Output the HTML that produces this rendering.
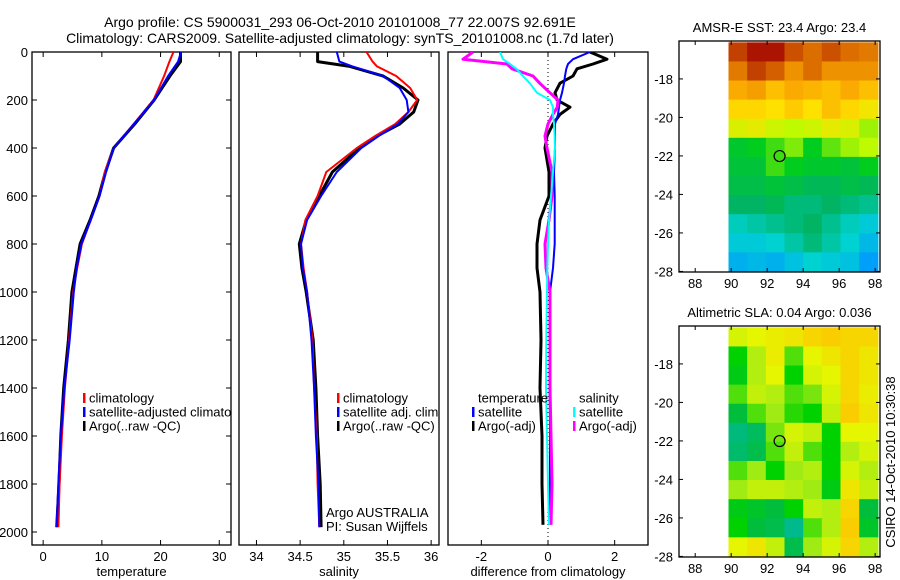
<!DOCTYPE html>
<html><head><meta charset="utf-8"><style>
body{margin:0;background:#fff;}
svg{display:block;font-family:"Liberation Sans",sans-serif;}
</style></head><body>
<svg id="fig" width="900" height="580" viewBox="0 0 900 580" xmlns="http://www.w3.org/2000/svg">
<defs>
<clipPath id="c1"><rect x="32" y="52" width="199" height="493"/></clipPath>
<clipPath id="c2"><rect x="239" y="52" width="200" height="493"/></clipPath>
<clipPath id="c3"><rect x="448" y="52" width="200" height="493"/></clipPath>
</defs>
<text x="340" y="27" font-size="14" text-anchor="middle">Argo profile: CS 5900031_293 06-Oct-2010 20101008_77 22.007S 92.691E</text>
<text x="340" y="43" font-size="14" text-anchor="middle">Climatology: CARS2009. Satellite-adjusted climatology: synTS_20101008.nc (1.7d later)</text>
<g id="g"></g>
<text transform="translate(895,462) rotate(-90)" font-size="13" text-anchor="middle">CSIRO 14-Oct-2010 10:30:38</text>
</svg>
<script>
// ---- profile data (depth in dbar) ----
const tDepth = [0,40,100,200,300,400,500,600,700,800,900,1000,1200,1400,1600,1800,1980];
const tArgo  = [23.4,23.4,21.6,18.9,15.6,12.0,10.6,9.5,8.0,6.3,5.6,4.9,4.3,3.5,3.0,2.7,2.3];
const tClim  = [22.2,21.5,20.6,18.8,15.4,12.0,10.5,9.6,8.1,6.6,5.8,5.1,4.4,3.7,3.2,2.8,2.6];
const tSat   = [23.5,23.0,21.3,18.9,15.5,12.0,10.7,9.6,8.1,6.5,5.7,5.2,4.5,3.6,3.0,2.6,2.3];
const sDepth = [0,40,60,100,150,200,250,300,350,400,500,600,700,800,900,1000,1200,1400,1600,1800,1980];
const sArgo  = [34.70,34.70,35.07,35.45,35.68,35.85,35.80,35.64,35.38,35.18,34.87,34.72,34.57,34.49,34.52,34.57,34.65,34.68,34.70,34.73,34.74];
const sClim  = [35.26,35.33,35.38,35.60,35.76,35.84,35.74,35.59,35.36,35.15,34.80,34.70,34.56,34.51,34.54,34.58,34.64,34.66,34.69,34.70,34.72];
const sSat   = [34.92,34.95,35.10,35.45,35.64,35.72,35.74,35.62,35.40,35.20,34.92,34.74,34.58,34.51,34.53,34.58,34.63,34.66,34.68,34.71,34.72];
const dDepth = [0,30,50,70,100,130,170,200,230,260,300,350,400,500,600,700,800,900,1000,1200,1400,1600,1800,1970];
const dTArgo = [1.26,1.77,1.35,0.87,0.75,0.36,0.21,0.27,0.66,0.36,0.15,-0.03,-0.09,0.03,0.03,-0.24,-0.33,-0.33,-0.24,-0.21,-0.24,-0.18,-0.18,-0.15];
const dTSat  = [1.26,0.75,0.60,0.55,0.51,0.48,0.42,0.36,0.33,0.30,0.21,0.21,0.21,0.18,0.20,0.20,0.20,0.15,0.06,0.05,0.05,0.06,0.06,0.06];
const dSArgo = [-2.25,-2.55,-1.23,-1.08,-0.45,-0.25,0.06,0.30,0.28,0.15,0.00,-0.09,-0.03,0.12,0.12,0.03,-0.09,-0.06,0.06,0.06,0.06,0.09,0.12,0.09];
const dSSat  = [-1.44,-1.35,-1.14,-0.95,-0.75,-0.55,-0.33,0.06,0.15,0.15,0.18,0.20,0.21,0.15,0.09,0.03,0.00,-0.02,-0.03,-0.05,-0.06,-0.03,0.00,0.03];
const depthTicks = [0,200,400,600,800,1000,1200,1400,1600,1800,2000];
const tTicks = [0,10,20,30];
const sTicks = [34,34.5,35,35.5,36];
const sTickLabels = ["34","34.5","35","35.5","36"];
const dTicks = [-2,0,2];
// ---- map data ----
const sstGrid = [
[25.6,26.0,26.0,25.5,25.3,25.5,25.3,25.2],
[25.2,25.6,25.4,25.0,25.3,25.0,25.0,25.0],
[24.8,24.9,24.6,24.8,24.7,24.6,24.8,24.6],
[24.4,24.4,24.3,24.5,24.3,24.6,24.4,24.2],
[24.0,24.1,23.9,23.8,23.9,24.1,24.0,23.7],
[23.1,23.2,23.4,23.6,23.2,23.5,23.7,23.8],
[23.0,23.0,23.4,23.2,23.1,23.1,23.0,23.2],
[22.9,22.9,23.0,22.9,22.8,22.8,22.9,22.8],
[22.7,22.7,22.8,22.6,22.6,22.7,22.6,22.5],
[22.3,22.4,22.5,22.6,22.7,22.5,22.3,22.1],
[22.1,22.1,22.2,22.4,22.6,22.4,22.2,21.9],
[21.8,21.9,21.8,22.0,22.2,22.1,22.0,21.6]];
const slaGrid = [
[0.07,0.08,0.09,0.10,0.12,0.13,0.12,0.12],
[0.00,0.05,0.09,0.02,0.08,0.10,0.12,0.10],
[-0.01,0.05,0.08,0.00,0.07,0.08,0.12,0.10],
[0.02,0.06,0.05,0.02,0.03,0.07,0.12,0.09],
[-0.03,0.02,0.04,0.01,0.00,0.06,0.13,0.10],
[-0.07,-0.05,0.03,0.07,0.06,0.00,0.08,0.08],
[-0.06,-0.04,0.02,0.06,0.02,0.00,0.05,0.07],
[0.02,0.04,0.00,0.04,0.05,0.00,0.07,0.05],
[0.04,0.06,0.06,0.05,0.04,-0.01,0.10,0.06],
[-0.01,-0.02,-0.03,0.00,0.06,0.05,0.12,-0.03],
[0.00,-0.03,-0.04,-0.08,0.02,0.05,0.14,-0.02],
[0.08,0.10,0.06,-0.04,0.04,0.07,0.12,0.05]];
const latTicks = [-18,-20,-22,-24,-26,-28];
const lonTicks = [88,90,92,94,96,98];
const argoLon = 92.691, argoLat = -22.007;

const NS="http://www.w3.org/2000/svg";
const G=document.getElementById('g');
function el(tag,attrs,parent){const e=document.createElementNS(NS,tag);for(const k in attrs)e.setAttribute(k,attrs[k]);(parent||G).appendChild(e);return e;}
function txt(x,y,s,size,anchor,parent){const t=el('text',{x:x,y:y,'font-size':size,'text-anchor':anchor||'start'},parent);t.textContent=s;return t;}

const Y0=52, PY=0.24; // depth axis
const yD=d=>Y0+d*PY;
function xs(x0,x1,v0,v1){return v=>x0+(v-v0)*(x1-x0)/(v1-v0);}

const panels=[
 {x0:32,x1:231,v0:-1.9,v1:32,ticks:tTicks,labels:tTicks.map(String),label:'temperature',clip:'c1',name:'temperature'},
 {x0:239,x1:439,v0:33.8,v1:36.09,ticks:sTicks,labels:sTickLabels,label:'salinity',clip:'c2',name:'salinity'},
 {x0:448,x1:648,v0:-3,v1:3,ticks:dTicks,labels:dTicks.map(String),label:'difference from climatology',clip:'c3',name:'difference'}];
panels.forEach((p,i)=>{
 p.sx=xs(p.x0,p.x1,p.v0,p.v1);
 const ax=el('g',{});
 
 
 el('rect',{x:p.x0,y:52,width:p.x1-p.x0,height:493,fill:'none',stroke:'#000','stroke-width':1.3},ax);
 p.ticks.forEach((t,k)=>{const x=p.sx(t);
  el('line',{x1:x,x2:x,y1:545,y2:540,stroke:'#000'},ax);
  el('line',{x1:x,x2:x,y1:52,y2:57,stroke:'#000'},ax);
  const lb=txt(x,561,p.labels[k],13,'middle',ax);
  
  
 });
 const xl=txt((p.x0+p.x1)/2,576,p.label,13,'middle',ax);
 
 
 if(i===0){depthTicks.forEach(d=>{const y=yD(d);
  el('line',{x1:32,x2:37,y1:y,y2:y,stroke:'#000'},ax);
  el('line',{x1:231,x2:226,y1:y,y2:y,stroke:'#000'},ax);
  const lb=txt(28,y+5,String(d),13,'end',ax);
  
  
 });}
});
function line(p,vals,depths,color,w,name){
 const pts=vals.map((v,k)=>p.sx(v).toFixed(1)+','+yD(depths[k]).toFixed(1)).join(' ');
 const l=el('polyline',{points:pts,fill:'none',stroke:color,'stroke-width':w,'clip-path':'url(#'+p.clip+')','stroke-linejoin':'round'});
 
 
}
const [P1,P2,P3]=panels;
line(P1,tArgo,tDepth,'#000',3,'temperature-argo-line');
line(P1,tClim,tDepth,'#f00',2,'temperature-climatology-line');
line(P1,tSat,tDepth,'#00f',2.2,'temperature-satellite-line');
line(P2,sArgo,sDepth,'#000',3,'salinity-argo-line');
line(P2,sClim,sDepth,'#f00',2,'salinity-climatology-line');
line(P2,sSat,sDepth,'#00f',2,'salinity-satellite-line');
const zl=el('line',{x1:P3.sx(0),x2:P3.sx(0),y1:52,y2:545,stroke:'#000','stroke-dasharray':'1,3'});


line(P3,dTArgo,dDepth,'#000',3,'diff-temperature-argo-line');
line(P3,dTSat,dDepth,'#00f',2,'diff-temperature-satellite-line');
line(P3,dSArgo,dDepth,'#f0f',3,'diff-salinity-argo-line');
line(P3,dSSat,dDepth,'#0ff',2,'diff-salinity-satellite-line');

function legend(x,y,items,clip,name){
 const g=el('g',{'clip-path':clip?'url(#'+clip+')':''});
 
 
 items.forEach((it,k)=>{const yy=y+k*14;
  if(it[1])el('rect',{x:x,y:yy-5,width:2.5,height:10,fill:it[1]},g);
  txt(x+6,yy+4.5,it[0],13,'start',g);});
}
legend(83,398,[['climatology','#f00'],['satellite-adjusted climatology','#00f'],['Argo(..raw -QC)','#000']],'c1','temperature-legend');
legend(337,398,[['climatology','#f00'],['satellite adj. clim.','#00f'],['Argo(..raw -QC)','#000']],'c2','salinity-legend');
legend(472,398,[['temperature',null],['satellite','#00f'],['Argo(-adj)','#000']],'c3','diff-temperature-legend');
legend(573,398,[['salinity',null],['satellite','#0ff'],['Argo(-adj)','#f0f']],'c3','diff-salinity-legend');
const a1=txt(326,517,'Argo AUSTRALIA',13);


const a2=txt(326,531,'PI: Susan Wijffels',13);



// ---- maps ----
function interp(stops,v){
 if(v<=stops[0][0])return stops[0][1];
 for(let i=1;i<stops.length;i++){if(v<=stops[i][0]){const a=stops[i-1],b=stops[i],f=(v-a[0])/(b[0]-a[0]);
  return 'rgb('+a[1].map((c,j)=>Math.round(c+(b[1][j]-c)*f)).join(',')+')';}}
 const l=stops[stops.length-1][1];return 'rgb('+l.join(',')+')';}
function fix(stops){return stops.map(s=>[s[0],s[1]]);}
const sstStops=[[21.5,[0,150,255]],[22.2,[0,210,210]],[22.7,[0,180,100]],[23.2,[0,205,30]],[23.8,[190,250,0]],[24.3,[255,225,0]],[24.8,[250,170,0]],[25.3,[220,110,0]],[25.9,[170,20,0]]];
const slaStops=[[-0.08,[0,185,140]],[-0.03,[0,190,60]],[0.0,[0,210,0]],[0.04,[160,235,20]],[0.08,[230,245,0]],[0.13,[250,205,0]]];
function interpC(stops,v){
 if(v<=stops[0][0])return 'rgb('+stops[0][1].join(',')+')';
 for(let i=1;i<stops.length;i++){if(v<=stops[i][0]){const a=stops[i-1],b=stops[i],f=(v-a[0])/(b[0]-a[0]);
  return 'rgb('+a[1].map((c,j)=>Math.round(c+(b[1][j]-c)*f)).join(',')+')';}}
 return 'rgb('+stops[stops.length-1][1].join(',')+')';}
function drawMap(top,title,grid,stops,name){
 const L=679,R=880,B=top+231;
 const sxm=xs(L,R,87.1,98.27), sym=v=>top+(-16.03-v)*19.25;
 const g=el('g',{});
 
 
 const lon0=89.85,lon1=98.15,lat0=-16.1,lat1=-28.0;
 const nr=grid.length,nc=grid[0].length;
 const cw=(lon1-lon0)/nc,ch=(lat0-lat1)/nr;
 grid.forEach((row,r)=>row.forEach((v,c)=>{
  const x=sxm(lon0+c*cw),y=sym(lat0-r*ch);
  const cell=el('rect',{x:x.toFixed(2),y:y.toFixed(2),width:(sxm(lon0+(c+1)*cw)-x+0.6).toFixed(2),height:(sym(lat0-(r+1)*ch)-y+0.6).toFixed(2),fill:interpC(stops,v)},g);
  
  
 }));
 el('rect',{x:L,y:top,width:R-L,height:B-top,fill:'none',stroke:'#000','stroke-width':1.3},g);
 latTicks.forEach(t=>{const y=sym(t);
  el('line',{x1:L,x2:L+4,y1:y,y2:y,stroke:'#000'},g);el('line',{x1:R,x2:R-4,y1:y,y2:y,stroke:'#000'},g);
  const lb=txt(673,y+5,String(t),13,'end',g);
  
  });
 lonTicks.forEach(t=>{const x=sxm(t);
  el('line',{x1:x,x2:x,y1:B,y2:B-4,stroke:'#000'},g);el('line',{x1:x,x2:x,y1:top,y2:top+4,stroke:'#000'},g);
  const lb=txt(x,B+16,String(t),13,'middle',g);
  
  });
 const c=el('circle',{cx:sxm(argoLon),cy:sym(argoLat),r:5.5,fill:'none',stroke:'#000','stroke-width':1.2},g);
 
 
 const tt=txt((L+R)/2,top-9,title,13,'middle',g);
 
 
}
drawMap(41,'AMSR-E SST: 23.4 Argo: 23.4',sstGrid,sstStops,'sst-map');
drawMap(326,'Altimetric SLA: 0.04 Argo: 0.036',slaGrid,slaStops,'sla-map');
</script>
</body></html>
